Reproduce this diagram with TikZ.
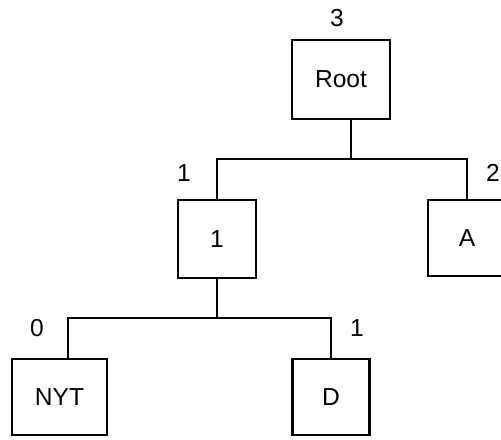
\documentclass[tikz,border=0pt]{standalone}
\usepackage{fontspec}
\setmainfont{Liberation Sans}

\begin{document}
\begin{tikzpicture}[x=0.02cm,y=-0.02cm,
    box/.style={shape=rectangle,draw=black,line width=1.3pt,inner sep=0pt,font=\fontsize{14}{16}\selectfont},
    num/.style={font=\fontsize{14}{16}\selectfont,inner sep=0pt},
    tree/.style={draw,line width=1.3pt}]
      \useasboundingbox (0,0) rectangle (501,440);
      % nodes of the tree
      \node[box,minimum width=1.96cm,minimum height=1.58cm] (Root) at (341,79.5) {Root};
      \node[box,minimum width=1.56cm,minimum height=1.56cm] (N1)   at (217,239)  {1};
      \node[box,minimum width=1.56cm,minimum height=1.52cm] (A)    at (467,238)  {A};
      \node[box,minimum width=1.90cm,minimum height=1.52cm] (NYT)  at (59.5,397) {NYT};
      \node[box,minimum width=1.54cm,minimum height=1.52cm] (D)    at (331,397)  {D};
      % weights
      \node[num] (wRoot) at (337,18)  {3};
      \node[num] (wN1)   at (184,173) {1};
      \node[num] (wA)    at (493,173) {2};
      \node[num] (wNYT)  at (37,328)  {0};
      \node[num] (wD)    at (357,328) {1};
      % branches
      \coordinate (j1) at (351,159);
      \coordinate (j2) at (217,318);
      \path[tree]
      (j1) -- (j1 |- Root.south)
      (N1.north) |- (j1) -| (A.north)
      (N1.south) -- (j2)
      (j2) -| ([xshift=0.17cm]NYT.north)
      (j2) -| (D.north);
\end{tikzpicture}
\end{document}
